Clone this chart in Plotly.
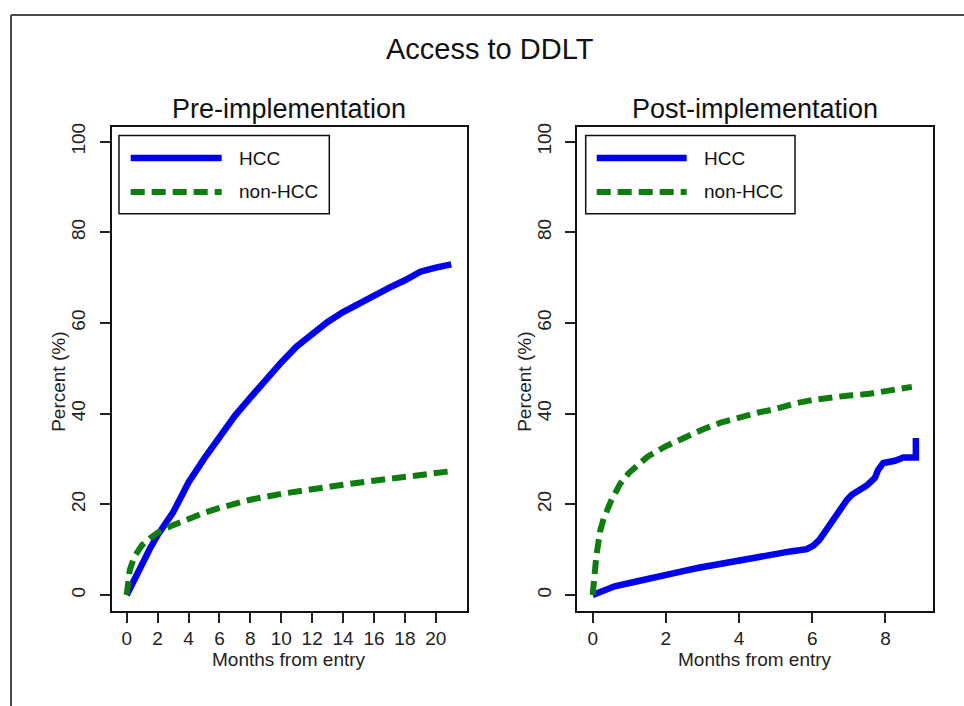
import plotly.graph_objects as go

# ---------------- data ----------------
pre_hcc_months = [0, 0.25, 0.5, 1, 1.5, 2, 2.5, 3, 3.5, 4, 5, 6, 7, 8, 9, 10, 11, 12,
                  13, 14, 15, 16, 17, 18, 19, 20, 20.5, 21]
pre_hcc_pct = [0, 1.8, 3.6, 7, 10.2, 13.2, 15.6, 18.2, 21.5, 24.8, 30, 35, 39.5, 43.5,
               47.5, 51.3, 54.8, 57.6, 60.2, 62.4, 64.3, 66, 67.8, 69.4, 71.3, 72.2, 72.6, 72.9]

pre_non_months = [0, 0.1, 0.2, 0.5, 1, 1.5, 2, 3, 4, 5, 6, 7, 8, 10, 12, 14, 16, 18, 20, 21]
pre_non_pct = [0, 3, 5.5, 8.5, 11, 12.5, 13.7, 15.4, 16.9, 18.1, 19.2, 20.2, 21, 22.3,
               23.4, 24.3, 25.2, 26, 26.8, 27.3]

post_hcc_months = [0, 0.3, 0.6, 1.1, 1.5, 2.0, 2.5, 2.9, 3.5, 4.0, 4.5, 4.9, 5.4, 5.85,
                   6.03, 6.2, 6.35, 6.48, 6.65, 6.8, 6.95, 7.08, 7.2, 7.35, 7.5, 7.71,
                   7.8, 7.94, 8.1, 8.26, 8.49, 8.6, 8.83, 8.83]
post_hcc_pct = [0, 1.0, 1.9, 2.8, 3.6, 4.6, 5.3, 6.0, 6.9, 7.8, 8.5, 9.1, 9.6, 10.1,
                10.9, 12.2, 14.0, 15.6, 17.8, 19.6, 21.0, 22.1, 22.7, 23.3, 24.2, 25.8,
                27.6, 29.1, 29.3, 29.6, 30.3, 30.3, 30.3, 34.6]

post_non_months = [0, 0.05, 0.1, 0.2, 0.3, 0.5, 0.75, 1, 1.5, 2, 2.5, 3, 3.5, 4, 4.5,
                   5, 5.5, 6, 6.5, 7, 7.5, 8, 8.5, 8.72]
post_non_pct = [0, 5, 8.5, 14, 16.8, 20.7, 24.5, 27, 30.5, 32.8, 34.8, 36.5, 38, 39.2,
                40.2, 41, 42.2, 43, 43.6, 44, 44.3, 44.9, 45.6, 45.9]

y_ticks = [0, 20, 40, 60, 80, 100]
pre_x_ticks = list(range(0, 21, 2))
post_x_ticks = [0, 2, 4, 6, 8]

main_title = "Access to DDLT"
panel_titles = ["Pre-implementation", "Post-implementation"]
series_names = ["HCC", "non-HCC"]
x_title = "Months from entry"
y_title = "Percent (%)"

# ---------------- styling ----------------
W, H = 964, 706
FONT = "Liberation Sans, Arial, sans-serif"
BLUE = "#0000f0"
GREEN = "#0e7c0e"
DASH = "14px,7px"


def px(x):
    return x / W


def py(y):
    return 1 - y / H


left_box = (111.7, 466.7)
right_box = (577.3, 932.7)
top_px, bot_px = 123.3, 610.0

fig = go.Figure()
fig.add_trace(go.Scatter(x=pre_hcc_months, y=pre_hcc_pct, mode="lines", name=series_names[0],
                         line=dict(color=BLUE, width=6.5), xaxis="x", yaxis="y", showlegend=False))
fig.add_trace(go.Scatter(x=pre_non_months, y=pre_non_pct, mode="lines", name=series_names[1],
                         line=dict(color=GREEN, width=6, dash=DASH), xaxis="x", yaxis="y", showlegend=False))
fig.add_trace(go.Scatter(x=post_hcc_months, y=post_hcc_pct, mode="lines", name=series_names[0],
                         line=dict(color=BLUE, width=6.5), xaxis="x2", yaxis="y2", showlegend=False))
fig.add_trace(go.Scatter(x=post_non_months, y=post_non_pct, mode="lines", name=series_names[1],
                         line=dict(color=GREEN, width=6, dash=DASH), xaxis="x2", yaxis="y2", showlegend=False))

axis_common = dict(showgrid=False, zeroline=False, showline=True, linecolor="#111", linewidth=2,
                   mirror=True, ticks="outside", ticklen=10, tickwidth=1.5, tickcolor="#222",
                   tickfont=dict(family=FONT, size=19, color="#222"))
yrange = [-3.44, 103.3]

fig.update_layout(
    width=W, height=H, margin=dict(l=0, r=0, t=0, b=0),
    paper_bgcolor="white", plot_bgcolor="white", showlegend=False,
    xaxis=dict(domain=[px(left_box[0]), px(left_box[1])], range=[-0.97, 22.0],
               tickvals=pre_x_ticks, anchor="y", **axis_common),
    yaxis=dict(domain=[py(bot_px), py(top_px)], range=yrange, tickvals=y_ticks,
               tickangle=-90, anchor="x", ticklabelstandoff=7, **axis_common),
    xaxis2=dict(domain=[px(right_box[0]), px(right_box[1])], range=[-0.42, 9.29],
                tickvals=post_x_ticks, anchor="y2", **axis_common),
    yaxis2=dict(domain=[py(bot_px), py(top_px)], range=yrange, tickvals=y_ticks,
                tickangle=-90, anchor="x2", ticklabelstandoff=7, **axis_common),
)

shapes = []
annotations = []

# outer frame (left + top)
shapes.append(dict(type="line", xref="paper", yref="paper", x0=px(11), x1=px(11), y0=py(11), y1=py(H + 5),
                   line=dict(color="#4a4a4a", width=2)))
shapes.append(dict(type="line", xref="paper", yref="paper", x0=px(11), x1=px(W + 5), y0=py(11), y1=py(11),
                   line=dict(color="#4a4a4a", width=2)))

annotations.append(dict(text=main_title, xref="paper", yref="paper", x=px(490), y=py(45),
                        xanchor="center", yanchor="middle", showarrow=False,
                        font=dict(family=FONT, size=29, color="#111")))

for box, ptitle, ytitle_x, leg in [
    (left_box, panel_titles[0], 59, (119, 329.3, 130.7, 221.7, 236.7)),
    (right_box, panel_titles[1], 525, (585.7, 795, 596.7, 686.7, 701.7)),
]:
    cx = (box[0] + box[1]) / 2
    annotations.append(dict(text=ptitle, xref="paper", yref="paper", x=px(cx), y=py(106),
                            xanchor="center", yanchor="middle", showarrow=False,
                            font=dict(family=FONT, size=27, color="#111")))
    annotations.append(dict(text=x_title, xref="paper", yref="paper", x=px(cx), y=py(659),
                            xanchor="center", yanchor="middle", showarrow=False,
                            font=dict(family=FONT, size=19, color="#222")))
    annotations.append(dict(text=y_title, xref="paper", yref="paper", x=px(ytitle_x), y=py(380),
                            xanchor="center", yanchor="middle", showarrow=False, textangle=-90,
                            font=dict(family=FONT, size=19, color="#222")))
    bx0, bx1, lx0, lx1, tx = leg
    shapes.append(dict(type="rect", xref="paper", yref="paper", x0=px(bx0), x1=px(bx1),
                       y0=py(211), y1=py(132.3), line=dict(color="#111", width=1.5),
                       fillcolor="white"))
    shapes.append(dict(type="line", xref="paper", yref="paper", x0=px(lx0), x1=px(lx1),
                       y0=py(155), y1=py(155), line=dict(color=BLUE, width=6.5)))
    shapes.append(dict(type="line", xref="paper", yref="paper", x0=px(lx0), x1=px(lx1),
                       y0=py(189), y1=py(189), line=dict(color=GREEN, width=6, dash=DASH)))
    for name, yy in zip(series_names, [155, 189]):
        annotations.append(dict(text=name, xref="paper", yref="paper", x=px(tx), y=py(yy),
                                xanchor="left", yanchor="middle", showarrow=False,
                                font=dict(family=FONT, size=19, color="#111")))

fig.update_layout(shapes=shapes, annotations=annotations)
fig.write_html("out.html")
